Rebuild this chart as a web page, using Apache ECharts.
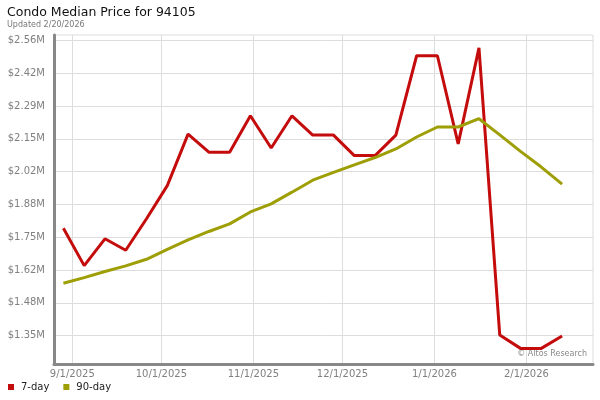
<!DOCTYPE html>
<html>
<head>
<meta charset="utf-8">
<script src="https://cdn.jsdelivr.net/npm/echarts@6/dist/echarts.min.js"></script>
<style>
html,body{margin:0;padding:0;background:#fff;}
#chart{width:600px;height:400px;}
</style>
</head>
<body>
<div id="chart"></div>
<script>
// Weekly dates (Fridays)
var dates = ['2025-08-29','2025-09-05','2025-09-12','2025-09-19','2025-09-26','2025-10-03','2025-10-10','2025-10-17','2025-10-24','2025-10-31','2025-11-07','2025-11-14','2025-11-21','2025-11-28','2025-12-05','2025-12-12','2025-12-19','2025-12-26','2026-01-02','2026-01-09','2026-01-16','2026-01-23','2026-01-30','2026-02-06','2026-02-13'];
// Values in millions of dollars
var sevenDay = [1.790,1.637,1.747,1.700,1.829,1.965,2.176,2.102,2.102,2.251,2.119,2.251,2.172,2.172,2.088,2.088,2.172,2.497,2.497,2.136,2.529,1.353,1.298,1.298,1.349];
var ninetyDay = [1.565,1.588,1.613,1.636,1.663,1.704,1.743,1.777,1.808,1.857,1.890,1.938,1.987,2.019,2.050,2.080,2.115,2.164,2.205,2.205,2.239,2.173,2.105,2.041,1.971];
var yTickValues = [1.35,1.4844,1.6189,1.7533,1.8878,2.0222,2.1567,2.2911,2.4256,2.56];
var yTickLabels = ['$1.35M','$1.48M','$1.62M','$1.75M','$1.88M','$2.02M','$2.15M','$2.29M','$2.42M','$2.56M'];
var xTickDates = ['2025-09-01','2025-10-01','2025-11-01','2025-12-01','2026-01-01','2026-02-01'];
var xTickLabels = ['9/1/2025','10/1/2025','11/1/2025','12/1/2025','1/1/2026','2/1/2026'];

function ts(s){var p=s.split('-');return Date.UTC(+p[0],+p[1]-1,+p[2]);}
var xTicks = xTickDates.map(ts);
var xMin = ts('2025-08-25') + 20*3600e3;
var xMax = ts('2026-02-23') + 10*3600e3;

var font = 'DejaVu Sans';
var chart = echarts.init(document.getElementById('chart'), null, {renderer:'canvas'});
chart.setOption({
  animation:false,
  backgroundColor:'#fff',
  title:[
    {text:'Condo Median Price for 94105', left:7, top:6, padding:0, textStyle:{fontFamily:font,fontSize:12.5,fontWeight:'normal',color:'#111'}},
    {text:'Updated 2/20/2026', left:7, top:21, padding:0, textStyle:{fontFamily:font,fontSize:8,fontWeight:'normal',color:'#777'}}
  ],
  legend:{
    left:3, top:377, icon:'rect', itemWidth:6, itemHeight:6, itemGap:14,
    textStyle:{fontFamily:font,fontSize:10,color:'#222',padding:[0,0,0,2]},
    data:['7-day','90-day']
  },
  grid:{left:54, top:35, right:7, bottom:36, show:true, borderColor:'#ddd', borderWidth:1, containLabel:false},
  xAxis:{
    type:'value', min:xMin, max:xMax,
    axisLine:{show:true,onZero:false,lineStyle:{color:'#888',width:3}},
    axisTick:{show:false, customValues:xTicks},
    splitLine:{show:true,lineStyle:{color:'#ddd',width:1}},
    axisLabel:{customValues:xTicks, fontFamily:font, fontSize:10, color:'#808080', margin:5,
      formatter:function(v){var i=xTicks.indexOf(v);return i>=0?xTickLabels[i]:'';}}
  },
  yAxis:{
    type:'value', min:1.234, max:2.582,
    axisLine:{show:true,onZero:false,lineStyle:{color:'#888',width:3}},
    axisTick:{show:false, customValues:yTickValues},
    splitLine:{show:true,lineStyle:{color:'#ddd',width:1}},
    axisLabel:{customValues:yTickValues, fontFamily:font, fontSize:10, color:'#808080', margin:9,
      formatter:function(v){var i=yTickValues.indexOf(v);return i>=0?yTickLabels[i]:'';}}
  },
  graphic:[
    {type:'text', right:13, top:350, style:{text:'\u00a9 Altos Research', fontFamily:font, fontSize:8, fill:'#888'}}
  ],
  series:[
    {name:'7-day', type:'line', data:dates.map(function(d,i){return [ts(d),sevenDay[i]];}),
     showSymbol:false, symbol:'none', lineStyle:{color:'#c40c0c',width:3}, itemStyle:{color:'#c40c0c'}},
    {name:'90-day', type:'line', data:dates.map(function(d,i){return [ts(d),ninetyDay[i]];}),
     showSymbol:false, symbol:'none', lineStyle:{color:'#9e9e06',width:3}, itemStyle:{color:'#9e9e06'}}
  ]
});
</script>
</body>
</html>
